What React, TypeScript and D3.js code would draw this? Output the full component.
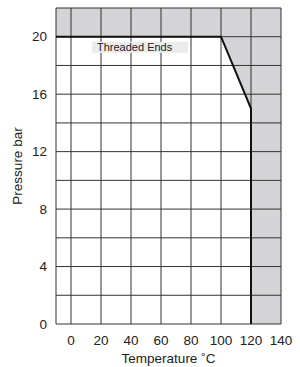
import React from "react";
import * as d3 from "d3";

// rating curve (temperature °C, pressure bar)
const curveTemps = [-10, 100, 120, 120];
const curvePressures = [20, 20, 15, 0];
const xTicks = [0, 20, 40, 60, 80, 100, 120, 140];
const yTicks = [0, 4, 8, 12, 16, 20];
const yGrid = [0, 2, 4, 6, 8, 10, 12, 14, 16, 18, 20, 22];
const xGrid = [-10, 0, 20, 40, 60, 80, 100, 120, 140];
const xDomain = [-10, 140];
const yDomain = [0, 22];
const curveLabel = "Threaded Ends";

const width = 300;
const height = 367;
const margin = { top: 8, right: 19, bottom: 43, left: 56 };

export default function App() {
  const innerW = width - margin.left - margin.right;
  const innerH = height - margin.top - margin.bottom;

  const x = d3.scaleLinear().domain(xDomain).range([0, innerW]);
  const y = d3.scaleLinear().domain(yDomain).range([innerH, 0]);

  const pts: [number, number][] = curveTemps.map((t, i) => [t, curvePressures[i]]);
  const line = d3
    .line<[number, number]>()
    .x((d) => x(d[0]))
    .y((d) => y(d[1]));

  // shaded region = everything above / right of the rating curve
  const shade: [number, number][] = [
    [xDomain[0], yDomain[1]],
    [xDomain[1], yDomain[1]],
    [xDomain[1], yDomain[0]],
    ...pts.slice().reverse(),
  ];

  const font = "'Liberation Sans', Arial, sans-serif";

  return (
    <svg
      width={width}
      height={height}
      style={{ position: "absolute", left: 0, top: 0 }}
      fontFamily={font}
    >
      <rect width={width} height={height} fill="#fff" />
      <g transform={`translate(${margin.left},${margin.top})`}>
        <path d={line(shade) + "Z"} fill="#d4d4d6" />
        {yGrid.map((v) => (
          <line
            key={"h" + v}
            x1={0}
            x2={innerW}
            y1={y(v)}
            y2={y(v)}
            stroke="#333"
            strokeWidth={1}
          />
        ))}
        {xGrid.map((v) => (
          <line
            key={"v" + v}
            x1={x(v)}
            x2={x(v)}
            y1={0}
            y2={innerH}
            stroke="#333"
            strokeWidth={1}
          />
        ))}
        <path d={line(pts) ?? ""} fill="none" stroke="#111" strokeWidth={2} />
        <rect x={x(14)} y={y(19.65)} width={96} height={11} fill="#ebebeb" />
        <text x={x(14) + 5} y={y(19.65) + 9} fontSize={11} fill="#222">
          {curveLabel}
        </text>
        {yTicks.map((v) => (
          <text
            key={"yt" + v}
            x={-9}
            y={y(v)}
            dy="0.35em"
            textAnchor="end"
            fontSize={13.5}
            fill="#222"
          >
            {v}
          </text>
        ))}
        {xTicks.map((v) => (
          <text
            key={"xt" + v}
            x={x(v)}
            y={innerH + 21}
            textAnchor="middle"
            fontSize={13.5}
            fill="#222"
          >
            {v}
          </text>
        ))}
        <text
          x={innerW / 2}
          y={innerH + 39}
          textAnchor="middle"
          fontSize={13.5}
          fill="#222"
        >
          Temperature ˚C
        </text>
        <text
          transform={`translate(${-34},${innerH / 2}) rotate(-90)`}
          textAnchor="middle"
          fontSize={13.5}
          fill="#222"
        >
          Pressure bar
        </text>
      </g>
    </svg>
  );
}
